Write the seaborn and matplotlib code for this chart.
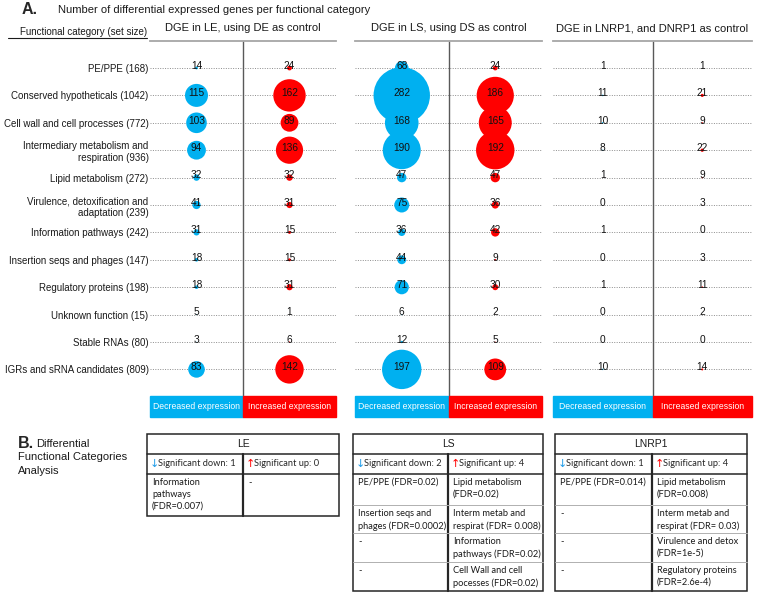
import numpy as np
import pandas as pd
import matplotlib
matplotlib.use("Agg")
import matplotlib.pyplot as plt
from matplotlib.patches import Rectangle
import seaborn as sns

# ---------------- data ----------------
categories = ["PE/PPE (168)", "Conserved hypotheticals (1042)", "Cell wall and cell processes (772)",
              "Intermediary metabolism and\nrespiration (936)", "Lipid metabolism (272)",
              "Virulence, detoxification and\nadaptation (239)", "Information pathways (242)",
              "Insertion seqs and phages (147)", "Regulatory proteins (198)", "Unknown function (15)",
              "Stable RNAs (80)", "IGRs and sRNA candidates (809)"]

le_down = [14, 115, 103, 94, 32, 41, 31, 18, 18, 5, 3, 83]
le_up = [24, 162, 89, 136, 32, 31, 15, 15, 31, 1, 6, 142]
ls_down = [68, 282, 168, 190, 47, 75, 36, 44, 71, 6, 12, 197]
ls_up = [24, 186, 165, 192, 47, 36, 42, 9, 30, 2, 5, 109]
lnrp_down = [1, 11, 10, 8, 1, 0, 1, 0, 1, 0, 0, 10]
lnrp_up = [1, 21, 9, 22, 9, 3, 0, 3, 11, 2, 0, 14]

panel_titles = ["DGE in LE, using DE as control", "DGE in LS, using DS as control",
                "DGE in LNRP1, and DNRP1 as control"]

table_names = ["LE", "LS", "LNRP1"]
le_sig_down = ["Information\npathways\n(FDR=0.007)"]
le_sig_up = ["-"]
ls_sig_down = ["PE/PPE (FDR=0.02)", "Insertion seqs and\nphages (FDR=0.0002)", "-", "-"]
ls_sig_up = ["Lipid metabolism\n(FDR=0.02)", "Interm metab and\nrespirat (FDR= 0.008)",
             "Information\npathways (FDR=0.02)", "Cell Wall and cell\npocesses (FDR=0.02)"]
lnrp_sig_down = ["PE/PPE (FDR=0.014)", "-", "-", "-"]
lnrp_sig_up = ["Lipid metabolism\n(FDR=0.008)", "Interm metab and\nrespirat (FDR= 0.03)",
               "Virulence and detox\n(FDR=1e-5)", "Regulatory proteins\n(FDR=2.6e-4)"]

# ---------------- style ----------------
sns.set_style("white")
plt.rcParams["font.family"] = ["Liberation Sans", "DejaVu Sans"]
BLUE = "#00B0F0"
RED = "#FF0000"
CAL = ["Lato", "DejaVu Sans"]

W, H = 760, 593
fig = plt.figure(figsize=(7.6, 5.93), dpi=100)


def fx(x):
    return x / W


def fy(y):
    return 1 - y / H


# overlay axes in pixel coordinates for free text and the tables
ov = fig.add_axes([0, 0, 1, 1])
ov.set_xlim(0, W)
ov.set_ylim(H, 0)
ov.axis("off")
ov.set_facecolor("none")

# ---------------- panel A ----------------
ROW0, ROWH = 68, 27.4
TOP, BOT, LEG = 41, 417, 396
y_top = (TOP - ROW0) / ROWH
y_bot = (BOT - ROW0) / ROWH
y_leg = (LEG - ROW0) / ROWH

panel_px = [(150, 336), (355, 542), (553, 752)]
scale_px = [0.2, 0.2, 0.15]
downs = [le_down, ls_down, lnrp_down]
ups = [le_up, ls_up, lnrp_up]
n = len(categories)

for i in range(3):
    x0, x1 = panel_px[i]
    ax = fig.add_axes([fx(x0), fy(BOT), (x1 - x0) / W, (BOT - TOP) / H])
    df = pd.DataFrame({"side": ["Decreased"] * n + ["Increased"] * n,
                       "row": list(range(n)) * 2,
                       "value": downs[i] + ups[i]})
    sizes = (0.72 * scale_px[i] * df["value"].to_numpy()) ** 2

    ax.hlines(range(n), -0.5, 1.5, colors="#8c8c8c", linestyles=(0, (1, 1.5)), lw=0.7, zorder=1)
    sns.scatterplot(data=df, x="side", y="row", hue="side",
                    palette={"Decreased": BLUE, "Increased": RED},
                    s=sizes, linewidth=0, legend=False, ax=ax, zorder=2)
    for _, r in df.iterrows():
        xi = 0 if r["side"] == "Decreased" else 1
        ax.text(xi, r["row"] - 0.08, str(r["value"]), ha="center", va="center",
                fontsize=7.3, color="#111111", zorder=3)

    ax.vlines(0.5, y_top, y_leg, color="#595959", lw=1, zorder=1)
    ax.add_patch(Rectangle((-0.5, y_leg), 1, y_bot - y_leg, color=BLUE, clip_on=False, zorder=2))
    ax.add_patch(Rectangle((0.5, y_leg), 1, y_bot - y_leg, color=RED, clip_on=False, zorder=2))
    mid = (y_leg + y_bot) / 2
    ax.text(0, mid, "Decreased expression", color="white", fontsize=6.2, ha="center", va="center", zorder=3)
    ax.text(1, mid, "Increased expression", color="white", fontsize=6.2, ha="center", va="center", zorder=3)

    ax.set_xlim(-0.5, 1.5)
    ax.set_ylim(y_bot, y_top)
    ax.set_xticks([])
    ax.set_xlabel("")
    ax.set_ylabel("")
    if i == 0:
        ax.set_yticks(range(n), categories, fontsize=7, color="#1a1a1a")
        ax.tick_params(axis="y", length=0, pad=1)
    else:
        ax.set_yticks([])
    for side in ["left", "right", "bottom"]:
        ax.spines[side].set_visible(False)
    ax.spines["top"].set_color("#a6a6a6")
    ax.spines["top"].set_linewidth(1.3)
    ax.set_facecolor("none")
    ax.set_title(panel_titles[i], fontsize=8, pad=7, color="#1a1a1a")

ov.text(22, 10, "A.", fontsize=11.5, fontweight="bold", va="center", ha="left")
ov.text(58, 10, "Number of differential expressed genes per functional category",
        fontsize=8, va="center", ha="left", color="#1a1a1a")
ov.text(147, 32, "Functional category (set size)", fontsize=7, ha="right", va="center", color="#1a1a1a")
ov.plot([8, 147], [38, 38], color="#1a1a1a", lw=0.8)

# ---------------- panel B ----------------
ov.text(18, 443, "B.", fontsize=11.5, fontweight="bold", va="center", ha="left")
ov.text(36, 444, "Differential", fontsize=8, va="center", ha="left", color="#1a1a1a")
ov.text(18, 457, "Functional Categories", fontsize=8, va="center", ha="left", color="#1a1a1a")
ov.text(18, 471, "Analysis", fontsize=8, va="center", ha="left", color="#1a1a1a")

table_px = [(147, 243, 339), (353, 448, 543), (555, 652, 747)]
table_edges = [[434, 454, 474, 516], [434, 454, 474, 505, 533, 562, 591], [434, 454, 474, 505, 533, 562, 591]]
sig_down = [le_sig_down, ls_sig_down, lnrp_sig_down]
sig_up = [le_sig_up, ls_sig_up, lnrp_sig_up]

for t in range(3):
    x0, xm, x1 = table_px[t]
    e = table_edges[t]
    ov.add_patch(Rectangle((x0, e[0]), x1 - x0, e[-1] - e[0], fill=False, ec="#262626", lw=1.1))
    ov.plot([xm, xm], [e[1], e[-1]], color="#262626", lw=1.6)
    ov.plot([x0, x1], [e[1], e[1]], color="#262626", lw=1.1)
    ov.plot([x0, x1], [e[2], e[2]], color="#262626", lw=1.1)
    for yy in e[3:-1]:
        ov.plot([x0, x1], [yy, yy], color="#b0b0b0", lw=0.7)
    ov.text((x0 + x1) / 2, (e[0] + e[1]) / 2, table_names[t], ha="center", va="center",
            fontsize=7.5, color="#1a1a1a")

    n_down = sum(s != "-" for s in sig_down[t])
    n_up = sum(s != "-" for s in sig_up[t])
    hy = (e[1] + e[2]) / 2
    ov.text(x0 + 3, hy, "↓", color="#1E9BE8", fontsize=8, family="DejaVu Sans", ha="left", va="center")
    ov.text(x0 + 11, hy, f"Significant down: {n_down}", fontsize=6.7, family=CAL, ha="left", va="center")
    ov.text(xm + 3, hy, "↑", color=RED, fontsize=8, family="DejaVu Sans", ha="left", va="center")
    ov.text(xm + 11, hy, f"Significant up: {n_up}", fontsize=6.7, family=CAL, ha="left", va="center")

    for k, (left, right) in enumerate(zip(sig_down[t], sig_up[t])):
        ty = e[2 + k] + 4
        ov.text(x0 + 5, ty, left, fontsize=6.7, family=CAL, ha="left", va="top", linespacing=1.4,
                color="#1a1a1a")
        ov.text(xm + 5, ty, right, fontsize=6.7, family=CAL, ha="left", va="top", linespacing=1.4,
                color="#1a1a1a")

fig.savefig("out.png", dpi=100)
